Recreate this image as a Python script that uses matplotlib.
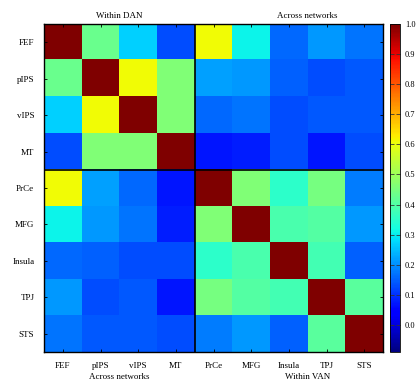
import numpy as np
import matplotlib
matplotlib.use("Agg")
import matplotlib.pyplot as plt

regions = ["FEF", "pIPS", "vIPS", "MT", "PrCe", "MFG", "Insula", "TPJ", "STS"]

# correlation values, row by row (symmetric matrix)
row_FEF    = [1.00, 0.43, 0.27, 0.13, 0.61, 0.31, 0.16, 0.21, 0.17]
row_pIPS   = [0.43, 1.00, 0.61, 0.46, 0.22, 0.21, 0.15, 0.13, 0.14]
row_vIPS   = [0.27, 0.61, 1.00, 0.46, 0.16, 0.17, 0.13, 0.14, 0.14]
row_MT     = [0.13, 0.46, 0.46, 1.00, 0.07, 0.08, 0.13, 0.07, 0.13]
row_PrCe   = [0.61, 0.22, 0.16, 0.07, 1.00, 0.46, 0.35, 0.45, 0.18]
row_MFG    = [0.31, 0.21, 0.17, 0.08, 0.46, 1.00, 0.39, 0.40, 0.21]
row_Insula = [0.16, 0.15, 0.13, 0.13, 0.35, 0.39, 1.00, 0.38, 0.15]
row_TPJ    = [0.21, 0.13, 0.14, 0.07, 0.45, 0.40, 0.38, 1.00, 0.41]
row_STS    = [0.17, 0.14, 0.14, 0.13, 0.18, 0.21, 0.15, 0.41, 1.00]

cbar_ticks = [0.0, 0.1, 0.2, 0.3, 0.4, 0.5, 0.6, 0.7, 0.8, 0.9, 1.0]
vmin, vmax = -0.09, 1.0

M = np.array([row_FEF, row_pIPS, row_vIPS, row_MT, row_PrCe,
              row_MFG, row_Insula, row_TPJ, row_STS])

plt.rcParams['font.family'] = ['Liberation Serif', 'DejaVu Serif']

fig = plt.figure(figsize=(4.16, 3.83), dpi=100)
ax = fig.add_axes([0.1058, 0.0809, 0.8149, 0.8564])
cax = fig.add_axes([0.9375, 0.0809, 0.024, 0.8564])

im = ax.imshow(M, cmap='jet', vmin=vmin, vmax=vmax, aspect='auto',
               interpolation='nearest')

n = len(regions)
ax.set_xticks(range(n))
ax.set_yticks(range(n))
ax.set_xticklabels(regions, fontsize=6.5)
ax.set_yticklabels(regions, fontsize=6.5)
ax.tick_params(direction='in', length=2, width=0.6, top=True, right=True,
               pad=7)
for s in ax.spines.values():
    s.set_linewidth(1.0)

ax.axvline(3.5, color='black', lw=1.2)
ax.axhline(3.5, color='black', lw=1.2)

# group labels
ax.text(1.5, -0.6, "Within DAN", ha='center', va='bottom', fontsize=6.5)
ax.text(6.5, -0.6, "Across networks", ha='center', va='bottom', fontsize=6.5)
x_left = ax.transData.transform((1.5, 0))[0] / fig.bbox.width
x_right = ax.transData.transform((6.5, 0))[0] / fig.bbox.width
fig.text(x_left, 0.004, "Across networks", ha='center', va='bottom', fontsize=6.5)
fig.text(x_right, 0.004, "Within VAN", ha='center', va='bottom', fontsize=6.5)

cb = fig.colorbar(im, cax=cax, ticks=cbar_ticks)
cb.ax.set_yticklabels([f"{t:.1f}" for t in cbar_ticks], fontsize=6)
cb.ax.tick_params(direction='in', length=3, width=0.6, left=True, right=True,
                  color='#333333')
cb.outline.set_linewidth(0.6)

fig.savefig("out.png", dpi=100)
